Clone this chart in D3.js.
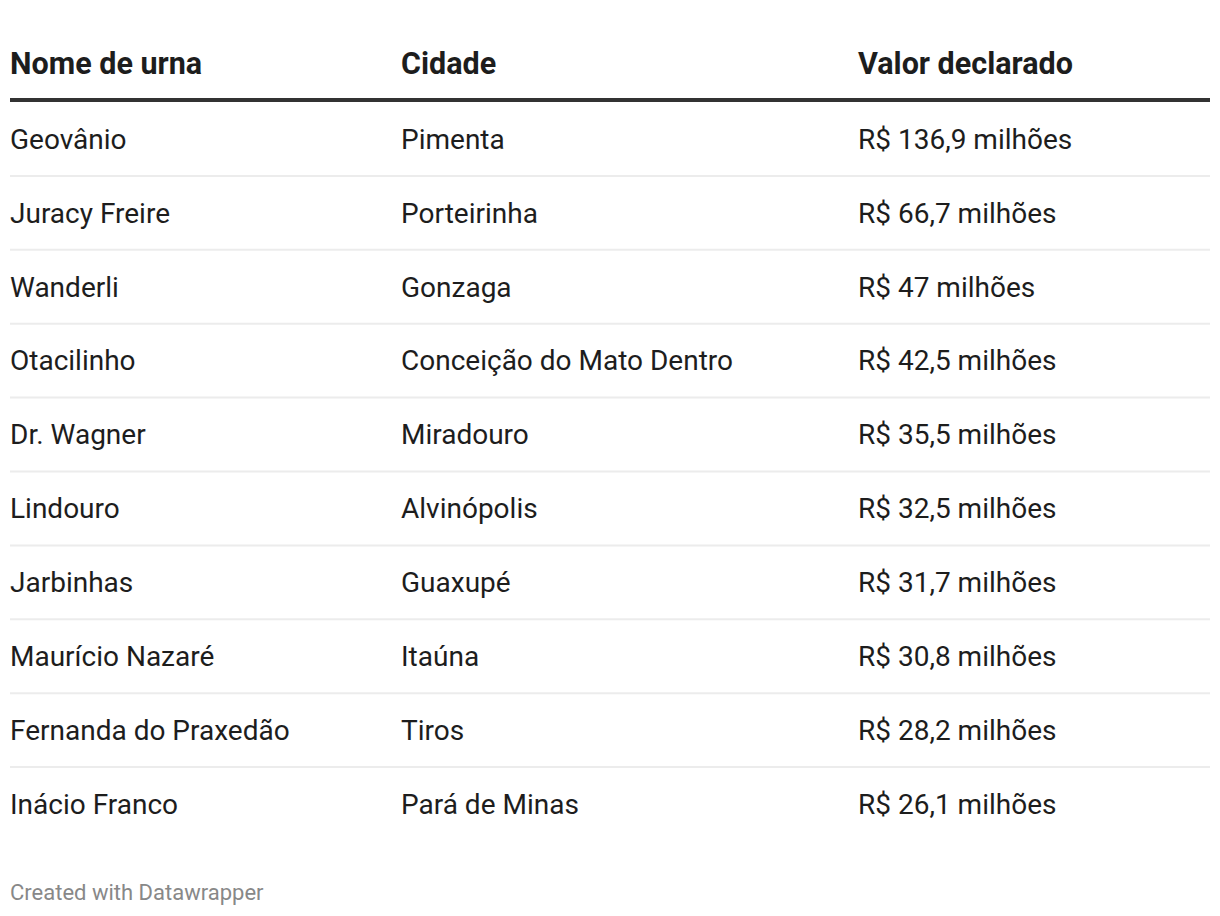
<!DOCTYPE html>
<html>
<head>
<meta charset="utf-8">
<script src="https://cdn.jsdelivr.net/npm/d3@7"></script>
<style>
  html, body { margin: 0; padding: 0; background: #fff; }
  svg { display: block; font-family: Roboto, "Noto Sans", sans-serif; }
</style>
</head>
<body>
<svg id="chart" width="1220" height="916"></svg>
<script>
const columns = ["Nome de urna", "Cidade", "Valor declarado"];
const names = ["Geovânio", "Juracy Freire", "Wanderli", "Otacilinho", "Dr. Wagner", "Lindouro", "Jarbinhas", "Maurício Nazaré", "Fernanda do Praxedão", "Inácio Franco"];
const cities = ["Pimenta", "Porteirinha", "Gonzaga", "Conceição do Mato Dentro", "Miradouro", "Alvinópolis", "Guaxupé", "Itaúna", "Tiros", "Pará de Minas"];
const values = [136.9, 66.7, 47, 42.5, 35.5, 32.5, 31.7, 30.8, 28.2, 26.1];
const footer = "Created with Datawrapper";

const W = 1220, left = 10, right = 1210;
const headerY = 63, ruleY = 100, tableTop = 102, tableBottom = 841;

const locale = d3.formatLocale({decimal: ",", thousands: ".", grouping: [3], currency: ["R$ ", ""]});
const fmt = v => locale.format("$~f")(v) + " milhões";

const rows = names.map((n, i) => ({name: n, city: cities[i], value: values[i]}));

const x = d3.scaleOrdinal().domain(columns).range([left, 401, 858]);
const y = d3.scaleBand().domain(d3.range(rows.length)).range([tableTop, tableBottom]);

const svg = d3.select("#chart");

// header
svg.append("g").selectAll("text").data(columns).join("text")
  .attr("x", d => x(d)).attr("y", headerY)
  .attr("dy", "0.35em")
  .attr("font-size", 30.5).attr("font-weight", 700).attr("fill", "#1d1d1d")
  .text(d => d);

svg.append("line")
  .attr("x1", left).attr("x2", right).attr("y1", ruleY).attr("y2", ruleY)
  .attr("stroke", "#333").attr("stroke-width", 4);

// row separators
svg.append("g").selectAll("line").data(rows.slice(0, -1)).join("line")
  .attr("x1", left).attr("x2", right)
  .attr("y1", (d, i) => y(i) + y.bandwidth())
  .attr("y2", (d, i) => y(i) + y.bandwidth())
  .attr("stroke", "#ececec").attr("stroke-width", 2);

// cells
const rowG = svg.append("g").selectAll("g").data(rows).join("g")
  .attr("transform", (d, i) => `translate(0,${y(i) + y.bandwidth() / 2})`);

const cellText = [d => d.name, d => d.city, d => fmt(d.value)];
columns.forEach((c, ci) => {
  rowG.append("text")
    .attr("x", x(c)).attr("dy", "0.35em")
    .attr("font-size", 28).attr("fill", "#1d1d1d")
    .text(cellText[ci]);
});

// footer
svg.append("text")
  .attr("x", left).attr("y", 892).attr("dy", "0.35em")
  .attr("font-size", 22).attr("fill", "#888")
  .text(footer);
</script>
</body>
</html>
